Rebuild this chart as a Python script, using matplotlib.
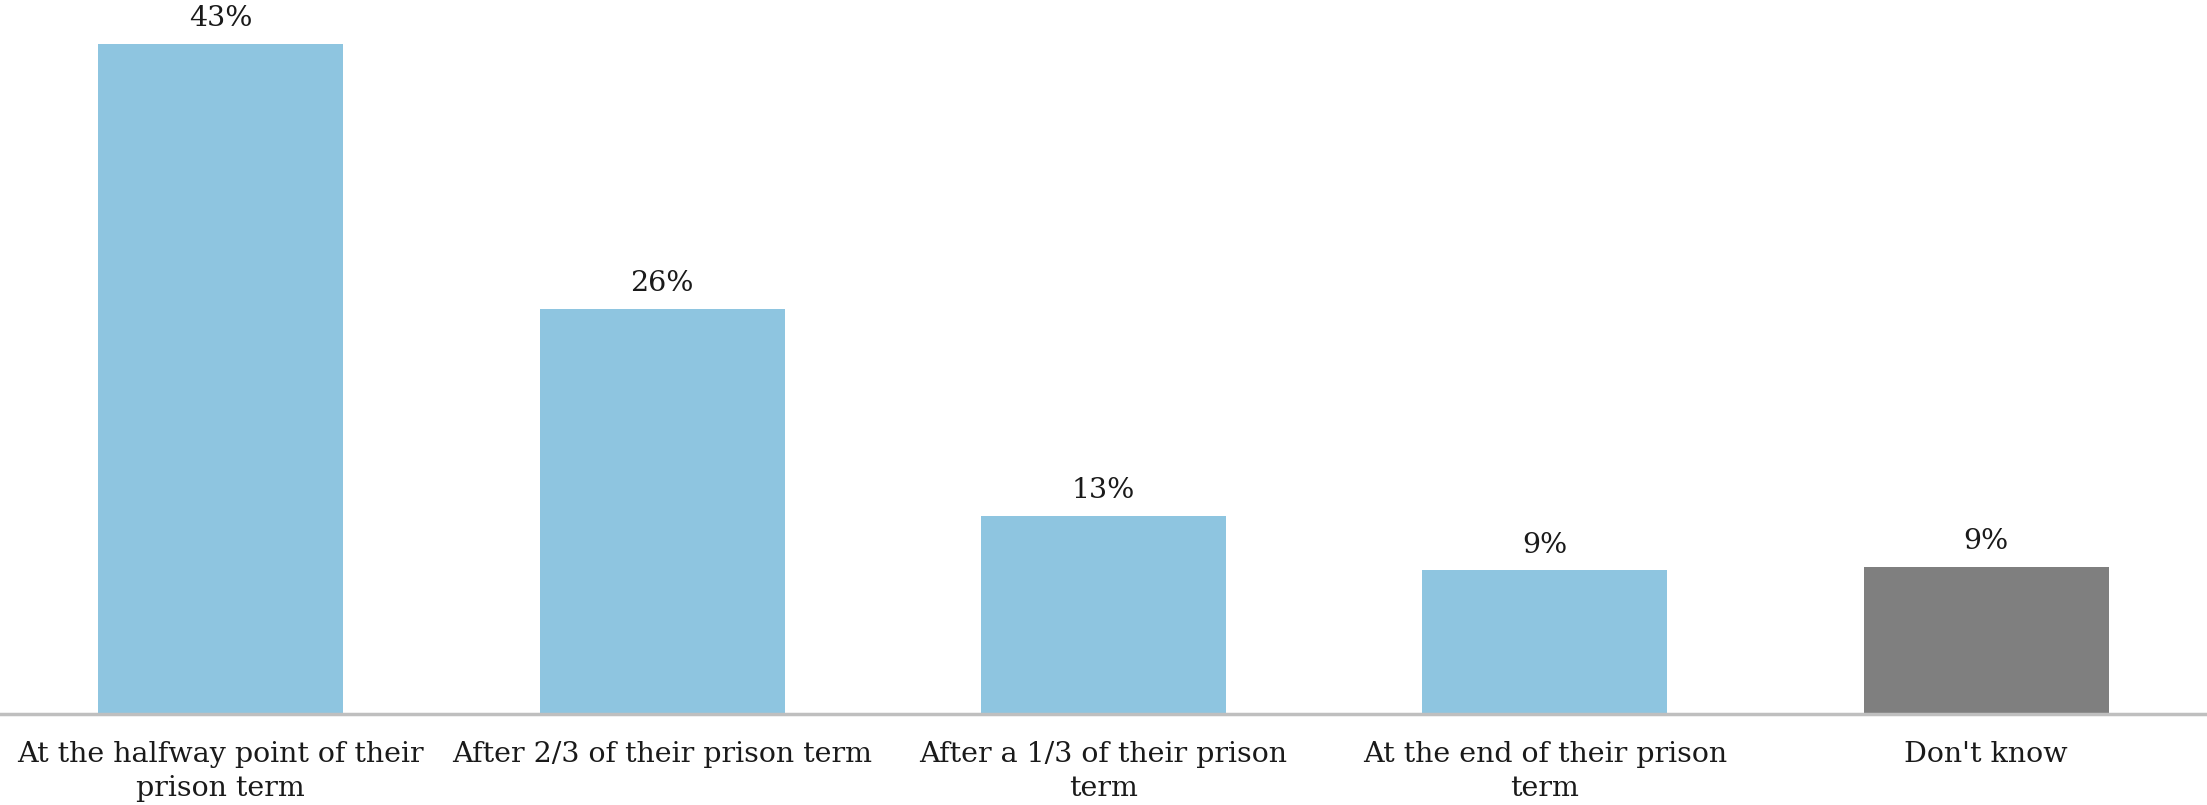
import numpy as np
import matplotlib
matplotlib.use("Agg")
import matplotlib.pyplot as plt

categories = [
    "At the halfway point of their\nprison term",
    "After 2/3 of their prison term",
    "After a 1/3 of their prison\nterm",
    "At the end of their prison\nterm",
    "Don't know",
]
values = [43.0, 26.0, 12.7, 9.2, 9.4]
colors = ["#8ec5e0", "#8ec5e0", "#8ec5e0", "#8ec5e0", "#7f7f7f"]

plt.rcParams["font.family"] = ["DejaVu Serif"]

fig = plt.figure(figsize=(22.07, 8.05), dpi=100)
ax = fig.add_axes([0, 0.1135, 1, 0.8865])

x = np.arange(len(categories))
bars = ax.bar(x, values, width=0.555, color=colors)

for b, v in zip(bars, values):
    ax.text(b.get_x() + b.get_width() / 2, v + 0.75, f"{v:.0f}%",
            ha="center", va="bottom", fontsize=20.5, color="#1a1a1a")

ax.set_xlim(-0.5, len(categories) - 0.5)
ax.set_ylim(0, 45.8)
ax.set_xticks(x)
ax.set_xticklabels(categories, fontsize=20.5, color="#1a1a1a", linespacing=1.3)
ax.tick_params(axis="x", length=0, pad=20)
ax.set_yticks([])

for side in ["top", "right", "left"]:
    ax.spines[side].set_visible(False)
ax.spines["bottom"].set_color("#bfbfbf")
ax.spines["bottom"].set_linewidth(2.5)

fig.savefig("out.png", dpi=100)
